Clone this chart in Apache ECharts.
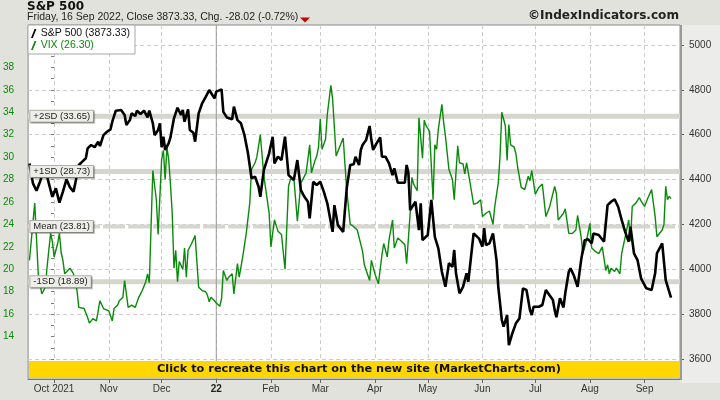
<!DOCTYPE html>
<html><head><meta charset="utf-8">
<script src="https://cdn.jsdelivr.net/npm/echarts@6/dist/echarts.min.js"></script>
<style>html,body{margin:0;padding:0;background:#e2e2dc}#chart{width:720px;height:400px}</style>
</head><body><div id="chart"></div>
<script>
// x = calendar days since 2021-10-01
const spx = [[-14,4472],[-12,4383],[-10,4350],[-8,4390],[-6,4443],[-4,4413],[-1,4323],[1,4361],[3,4297],[5,4346],[7,4401],[9,4365],[11,4346],[12,4383],[14,4465],[16,4480],[18,4495],[19,4539],[21,4554],[23,4544],[25,4569],[26,4549],[28,4598],[30,4613],[32,4624],[33,4658],[35,4707],[38,4710],[40,4688],[41,4643],[43,4665],[44,4695],[46,4683],[47,4707],[49,4692],[51,4707],[53,4677],[54,4707],[56,4651],[57,4598],[59,4621],[60,4651],[61,4544],[62,4591],[63,4532],[65,4562],[66,4588],[68,4673],[70,4720],[72,4688],[73,4710],[74,4658],[76,4713],[77,4621],[79,4609],[80,4569],[82,4695],[84,4740],[86,4769],[88,4799],[89,4792],[91,4762],[92,4792],[95,4802],[96,4702],[98,4677],[101,4669],[102,4725],[104,4665],[106,4651],[108,4598],[110,4517],[112,4406],[114,4413],[116,4368],[117,4323],[119,4443],[122,4517],[124,4591],[125,4472],[127,4502],[129,4487],[131,4591],[133,4420],[136,4398],[138,4487],[140,4353],[142,4323],[144,4301],[145,4227],[147,4390],[149,4376],[151,4390],[153,4346],[155,4294],[158,4167],[159,4286],[161,4197],[164,4167],[166,4361],[168,4465],[170,4468],[171,4502],[173,4465],[174,4532],[175,4554],[177,4576],[179,4639],[180,4576],[181,4532],[183,4562],[185,4588],[186,4502],[188,4502],[190,4472],[192,4420],[193,4450],[195,4386],[199,4386],[200,4465],[201,4430],[202,4264],[205,4301],[207,4175],[208,4294],[209,4130],[212,4153],[214,4309],[216,4145],[218,4093],[220,3989],[222,3922],[224,4027],[226,4011],[227,4086],[228,3982],[230,3893],[232,3922],[234,3982],[235,3945],[238,4160],[241,4138],[243,4101],[244,4183],[245,4108],[247,4116],[249,4160],[251,4041],[252,3922],[254,3774],[255,3744],[257,3796],[258,3662],[260,3715],[262,3759],[264,3781],[265,3848],[266,3915],[268,3908],[270,3818],[271,3796],[272,3833],[275,3833],[277,3841],[279,3908],[281,3885],[283,3863],[284,3818],[285,3786],[287,3871],[289,3830],[290,3893],[292,3989],[293,4004],[295,3970],[296,3967],[297,3922],[299,4041],[300,4086],[301,4130],[303,4134],[305,4116],[306,4160],[309,4153],[312,4123],[313,4205],[314,4286],[316,4301],[318,4312],[320,4279],[322,4220],[324,4167],[326,4123],[327,4190],[329,4071],[331,4041],[333,3960],[336,3915],[337,3911],[339,3908],[341,3982],[342,4071],[345,4116],[347,3952],[348,3945],[350,3873.33]];
const vix = [[-14,20.8],[-11,25.9],[-9,19.6],[-7,17.8],[-5,18.4],[-4,20.2],[-2,23.2],[-1,22.5],[0,21.1],[2,22.3],[3,23.2],[4,21.5],[5,20.8],[6,19.6],[9,20.1],[10,20.2],[11,19.6],[13,18.1],[14,16.6],[17,16.5],[19,15.7],[20,15.2],[22,15.6],[24,15.4],[26,17.2],[28,16.5],[29,16.6],[31,16.3],[33,15.4],[34,16.5],[36,16.8],[37,17.2],[39,17.5],[40,19.0],[42,16.6],[44,16.8],[46,16.6],[48,17.5],[50,18.1],[52,18.9],[53,19.6],[54,18.8],[55,23.8],[56,28.8],[58,26.2],[59,23.1],[61,29.8],[62,30.6],[63,28.0],[64,30.9],[65,29.8],[66,27.6],[67,25.0],[68,20.1],[69,21.7],[70,18.9],[71,20.7],[73,20.0],[74,21.9],[75,19.3],[76,21.7],[78,22.3],[80,23.0],[82,18.4],[84,18.1],[86,18.0],[87,17.7],[88,17.1],[89,17.5],[91,17.2],[92,17.0],[94,16.7],[95,17.4],[96,19.9],[98,19.0],[99,19.3],[101,19.6],[102,17.8],[103,17.7],[104,20.5],[105,19.3],[107,21.1],[109,23.2],[111,25.9],[112,28.9],[114,29.5],[115,30.0],[117,32.0],[119,28.3],[122,25.0],[123,22.0],[124,22.0],[125,24.4],[127,23.4],[129,23.1],[131,20.0],[133,27.4],[134,28.0],[136,28.2],[138,24.3],[140,27.7],[141,28.0],[143,28.6],[145,31.1],[146,28.6],[148,29.7],[149,30.1],[150,30.9],[151,33.4],[152,30.7],[154,31.6],[155,33.8],[157,36.4],[158,35.2],[160,30.1],[162,30.9],[164,31.7],[166,27.1],[168,24.0],[170,23.8],[172,23.5],[173,23.6],[175,21.6],[176,20.4],[179,19.0],[180,20.8],[182,19.6],[184,18.7],[186,21.3],[187,22.3],[189,21.1],[190,22.6],[192,24.4],[193,21.9],[195,22.8],[197,22.5],[199,22.2],[200,20.5],[202,25.0],[203,28.2],[204,27.6],[206,27.0],[207,33.5],[209,29.9],[210,33.3],[211,32.8],[213,32.3],[215,26.2],[216,31.1],[217,30.7],[218,32.5],[220,34.7],[221,33.1],[222,31.9],[224,28.9],[226,28.0],[227,26.2],[229,31.0],[230,29.5],[232,29.4],[233,28.5],[234,29.5],[236,27.7],[238,25.8],[240,25.9],[242,26.2],[243,24.7],[245,25.0],[247,25.2],[249,24.0],[250,25.6],[252,27.7],[253,30.1],[254,34.0],[256,32.8],[257,29.7],[258,32.9],[259,31.1],[261,30.9],[262,30.3],[263,29.1],[264,29.2],[265,27.3],[267,27.1],[268,27.0],[269,28.3],[270,27.9],[271,28.8],[273,26.7],[275,27.3],[277,27.6],[279,24.7],[281,25.5],[284,27.4],[285,26.7],[286,24.4],[289,25.0],[290,25.4],[292,23.2],[294,23.2],[296,23.5],[297,24.8],[299,22.9],[300,21.4],[302,22.5],[304,24.1],[305,21.9],[307,21.6],[309,21.4],[311,22.0],[313,19.9],[314,20.4],[315,19.6],[316,20.1],[318,19.8],[319,20.1],[321,19.6],[322,21.4],[324,22.9],[326,24.4],[327,22.5],[328,25.6],[330,25.9],[332,26.4],[333,26.1],[335,25.6],[337,26.4],[339,27.1],[341,24.7],[342,22.9],[345,23.5],[346,24.0],[347,27.4],[348,26.2],[349,26.5],[350,26.3]];
const monthTicks = [0,31,61,92,123,151,182,212,243,273,304,335];
const monthLabels = ['Oct 2021','Nov','Dec','22','Feb','Mar','Apr','May','Jun','Jul','Aug','Sep'];
const yearStart = 92;
const vixLabels = [14,16,18,20,22,24,26,28,30,32,34,36,38];
const vixTickVals = [11,12,13,14,15,16,17,18,19,20,21,22,23,24,25,26,27,28,29,30,31,32,33,34,35,36,37,38,39,40,41];
const spxLabels = [3600,3800,4000,4200,4400,4600,4800,5000];
const spxMinor = [3700,3900,4100,4300,4500,4700,4900];
const bandNames = ['+2SD','+1SD','Mean','-1SD'];
const bandValues = [33.65,28.73,23.81,18.89];
const legendNames = ['S&P 500 (3873.33)','VIX (26.30)'];

const X_MIN = -14.75, X_MAX = 355.1;
const VIX_MIN = 10.22, VIX_MAX = 41.78;
const SPX_MIN = 3511, SPX_MAX = 5089;
const FONT = '"Liberation Sans", Arial, sans-serif';
const BOLD = '"DejaVu Sans", Verdana, sans-serif';

const chart = echarts.init(document.getElementById('chart'), null, {renderer:'canvas'});

const bandSeries = bandValues.map((v,i) => ({
  type:'line', yAxisIndex:0, silent:true, symbol:'none', z:1,
  data:[[X_MIN,v],[X_MAX,v]],
  lineStyle: bandNames[i]==='Mean'
    ? {color:'#d6d6ce', width:4, type:[22,3]}
    : {color:'#d6d6ce', width:5}
}));

const option = {
  animation:false,
  backgroundColor:'#e2e2dc',
  textStyle:{fontFamily:FONT},
  grid:{left:28, right:40, top:25, bottom:21, show:true, backgroundColor:'#ffffff', borderColor:'#8a8a8a', borderWidth:1},
  legend:{
    show:true, left:28, top:25, orient:'vertical', selectedMode:false,
    backgroundColor:'#ffffff', borderColor:'#a8a8a8', borderWidth:1, borderRadius:0,
    padding:[3,5,3,3], itemGap:1, itemWidth:6, itemHeight:9,
    icon:'path://M0,10 L4,0 L6,0 L2,10 Z',
    textStyle:{fontSize:10.5, fontFamily:FONT, padding:[0,0,0,-1]},
    data:[{name:legendNames[0], textStyle:{color:'#111'}},{name:legendNames[1], textStyle:{color:'#0a8a0a'}}]
  },
  xAxis:{
    type:'value', min:X_MIN, max:X_MAX,
    axisLine:{show:true, lineStyle:{color:'#777', width:1}},
    axisTick:{show:true, length:4, customValues:monthTicks, lineStyle:{color:'#666'}},
    axisLabel:{customValues:monthTicks, margin:5, fontSize:10, color:'#333', fontFamily:FONT,
      formatter:(v)=>{const i=monthTicks.indexOf(v); if(i<0) return ''; return monthTicks[i]===yearStart ? '{b|'+monthLabels[i]+'}' : monthLabels[i];},
      rich:{b:{fontWeight:'bold', fontSize:10, color:'#222', fontFamily:FONT}}},
    splitLine:{show:true, lineStyle:{color:'#cccccc', type:[4,3], width:1}}
  },
  yAxis:[
    {type:'value', position:'left', min:VIX_MIN, max:VIX_MAX,
     axisLine:{show:false},
     axisTick:{show:true, length:3, customValues:vixTickVals, lineStyle:{color:'#777'}},
     axisLabel:{customValues:vixLabels, margin:14, fontSize:10, color:'#0a8a0a', fontFamily:FONT, formatter:(v)=>String(v)},
     splitLine:{show:false}},
    {type:'value', position:'right', min:SPX_MIN, max:SPX_MAX,
     axisLine:{show:false},
     axisTick:{show:true, length:4, customValues:spxLabels, lineStyle:{color:'#555'}},
     axisLabel:{customValues:spxLabels, margin:9, fontSize:10, color:'#333', fontFamily:FONT, formatter:(v)=>String(v)},
     splitLine:{show:true, lineStyle:{color:'#cccccc', type:[4,3], width:1}}},
    {type:'value', position:'right', min:SPX_MIN, max:SPX_MAX,
     axisLine:{show:false},
     axisTick:{show:true, length:2, customValues:spxMinor, lineStyle:{color:'#666'}},
     axisLabel:{show:false}, splitLine:{show:false}}
  ],
  series:[
    ...bandSeries,
    {type:'line', yAxisIndex:0, silent:true, symbol:'none', z:1,
     data:[[yearStart,VIX_MIN],[yearStart,VIX_MAX]], lineStyle:{color:'#9a9a9a', width:1}},
    {name:legendNames[1], type:'line', yAxisIndex:0, data:vix, symbol:'none', z:2,
     color:'#0a8a0a', lineStyle:{color:'#0a8a0a', width:1.4}},
    {name:legendNames[0], type:'line', yAxisIndex:1, data:spx, symbol:'none', z:3,
     color:'#000000', lineStyle:{color:'#000000', width:2.6}},
    {type:'scatter', yAxisIndex:0, silent:true, z:10, clip:false, symbol:'rect', symbolSize:0.5,
     itemStyle:{color:'#ffffff', opacity:1},
     data:bandValues.map((v,i)=>({value:[X_MIN,v], name:bandNames[i]+' ('+v.toFixed(2)+')'})),
     label:{show:true, position:'right', distance:2, formatter:(p)=>p.name,
       fontSize:9.5, color:'#222222', opacity:1, fontFamily:FONT, textBorderWidth:0,
       backgroundColor:'#eeeee8', borderColor:'#b0b0a8', borderWidth:1, padding:[1,3,0,3],
       shadowColor:'rgba(0,0,0,0.25)', shadowOffsetX:1, shadowOffsetY:1, shadowBlur:0}}
  ],
  graphic:[
    {type:'rect', shape:{x:681, y:25, width:39, height:358}, style:{fill:'#ececea'}, z:-1, silent:true},
    {type:'rect', shape:{x:680, y:25, width:2, height:355}, style:{fill:'#9a9a9a'}, z:5, silent:true},
    {type:'text', left:27, top:1, style:{text:'S&P 500', font:'bold 12px '+BOLD, fill:'#111'}},
    {type:'text', left:27, top:12, style:{text:'Friday, 16 Sep 2022, Close 3873.33, Chg. -28.02 (-0.72%)', font:'10.5px '+FONT, fill:'#222'}},
    {type:'polygon', shape:{points:[[300,17.5],[310,17.5],[305,22.5]]}, style:{fill:'#cc0000'}},
    {type:'text', right:41, top:10, style:{text:'\u00a9IndexIndicators.com', font:'bold 12.1px '+BOLD, fill:'#222'}},
    {type:'rect', shape:{x:29, y:361, width:651, height:17}, style:{fill:'#ffd700'}, z:20},
    {type:'text', x:359, y:369.5, z:21, style:{text:'Click to recreate this chart on the new site (MarketCharts.com)', font:'bold 11.3px '+BOLD, fill:'#111', align:'center', verticalAlign:'middle'}}
  ]
};
chart.setOption(option);
</script></body></html>
